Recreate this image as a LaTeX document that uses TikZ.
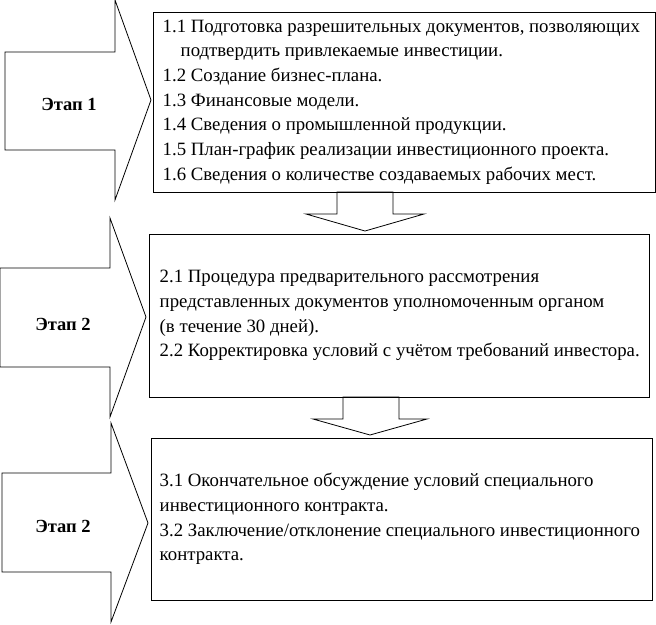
\documentclass[tikz,border=0pt]{standalone}
\usepackage{fontspec}
\setmainfont{Liberation Serif}
\usetikzlibrary{positioning}
\tikzset{
  stagebox/.style={draw, line width=1pt, inner sep=0pt},
  boxtext/.style={align=left, inner sep=0pt, font=\rmfamily\fontsize{18.8}{24.7}\selectfont},
  stagelabel/.style={font=\rmfamily\bfseries\fontsize{18.5}{20}\selectfont, inner sep=0pt},
  outline/.style={line width=0.8pt, line join=miter}
}
\begin{document}
\begin{tikzpicture}[x=1pt, y=-1pt]
	\useasboundingbox (0,0) rectangle (656,624);
	% stage arrows
	\draw[outline] (5,52) -- (115,52) -- (115,0) -- (151,100) -- (115,200) -- (115,150) -- (5,150) -- cycle;
	\draw[outline] (0,268) -- (110,268) -- (110,218) -- (146,317) -- (110,417) -- (110,367) -- (0,367) -- cycle;
	\draw[outline] (2,473) -- (111,473) -- (111,423) -- (148,523) -- (111,622) -- (111,572) -- (2,572) -- cycle;
	\node[stagelabel] (stage1) at (69,104) {Этап 1};
	\node[stagelabel] (stage2) at (63,324) {Этап 2};
	\node[stagelabel] (stage3) at (63,526) {Этап 2};
	% boxes
	\node[stagebox, minimum width=502pt, minimum height=180pt] (box1) at (404,102) {};
	\node[stagebox, minimum width=500pt, minimum height=163pt] (box2) at (399,315.5) {};
	\node[stagebox, minimum width=501pt, minimum height=162pt] (box3) at (401.5,519) {};
	\node[boxtext, right=10pt of box1.west] (text1) {1.1 Подготовка разрешительных документов, позволяющих\\
		\hspace*{18pt}подтвердить привлекаемые инвестиции.\\
		1.2 Создание бизнес-плана.\\
		1.3 Финансовые модели.\\
		1.4 Сведения о промышленной продукции.\\
		1.5 План-график реализации инвестиционного проекта.\\
		1.6 Сведения о количестве создаваемых рабочих мест.};
	\node[boxtext, right=11pt of box2.west] (text2) {2.1 Процедура предварительного рассмотрения\\
		представленных документов уполномоченным органом\\
		(в течение 30 дней).\\
		2.2 Корректировка условий с учётом требований инвестора.};
	\node[boxtext, right=9pt of box3.west] (text3) {3.1 Окончательное обсуждение условий специального\\
		инвестиционного контракта.\\
		3.2 Заключение/отклонение специального инвестиционного\\
		контракта.};
	% down arrows
	\draw[outline] (337,192) -- (337,214) -- (306,214) -- (365,231) -- (424,214) -- (393,214) -- (393,192) -- cycle;
	\draw[outline] (343,397) -- (343,419) -- (313,419) -- (370,435) -- (427,419) -- (399,419) -- (399,397) -- cycle;
\end{tikzpicture}
\end{document}
